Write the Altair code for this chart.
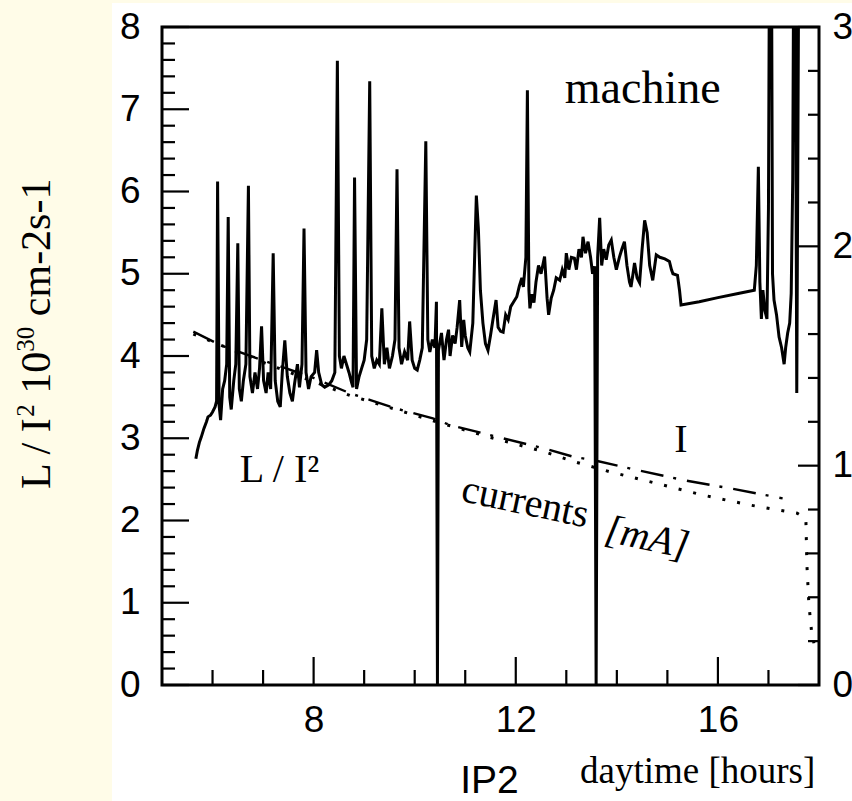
import altair as alt
import pandas as pd

# ---------------- data ----------------
# L / I^2  [10^30 cm-2 s-1]  (left axis) versus daytime [hours]
lum_t = [5.67, 5.70, 5.74, 5.78, 5.83, 5.88, 5.91, 5.96, 6.00, 6.05, 6.08,
         6.10, 6.13, 6.16, 6.20, 6.24, 6.28,
         6.31, 6.34, 6.37, 6.42, 6.46,
         6.50, 6.53, 6.57, 6.61, 6.66,
         6.71, 6.74, 6.79, 6.84, 6.89, 6.93,
         6.97, 7.01, 7.06, 7.10, 7.15,
         7.20, 7.24, 7.29, 7.34, 7.38,
         7.43, 7.48, 7.53, 7.58, 7.62, 7.68, 7.72, 7.77,
         7.81, 7.85, 7.90, 7.95, 8.02,
         8.06, 8.10, 8.16, 8.22, 8.30, 8.36, 8.42,
         8.47, 8.51, 8.55, 8.60, 8.65, 8.70, 8.75, 8.78,
         8.81, 8.85, 8.90, 8.95, 9.00, 9.05,
         9.11, 9.15, 9.20, 9.25, 9.30,
         9.35, 9.40, 9.45, 9.50, 9.56, 9.61,
         9.65, 9.69, 9.74, 9.80, 9.86,
         9.90, 9.95, 10.00, 10.05, 10.10, 10.15,
         10.22, 10.26, 10.30, 10.35, 10.40,
         10.43, 10.45, 10.47, 10.53, 10.58, 10.63, 10.67, 10.70, 10.75, 10.80, 10.84,
         10.89, 10.93, 10.97, 11.00, 11.05, 11.09, 11.15,
         11.22, 11.26, 11.30, 11.35, 11.40, 11.45, 11.50, 11.55,
         11.61, 11.65, 11.70, 11.75, 11.80, 11.85, 11.90, 11.95, 12.02, 12.07, 12.12, 12.15, 12.20,
         12.23, 12.26, 12.28, 12.32, 12.36, 12.40, 12.45, 12.50,
         12.57, 12.62, 12.65, 12.70, 12.75, 12.80, 12.87, 12.92, 12.97, 13.00, 13.05, 13.10,
         13.16, 13.20, 13.25, 13.30, 13.33, 13.38, 13.43, 13.48, 13.52, 13.56,
         13.59, 13.62, 13.66, 13.70, 13.74, 13.79, 13.84, 13.89, 13.94, 13.99, 14.05, 14.10,
         14.15, 14.20, 14.25, 14.28, 14.32, 14.35, 14.40, 14.45, 14.50, 14.55, 14.60, 14.65,
         14.71, 14.78, 14.85, 14.95, 15.04, 15.08, 15.11, 15.20, 15.24, 15.27,
         15.63, 16.00, 16.40, 16.72,
         16.76, 16.80, 16.83, 16.86, 16.89, 16.93, 16.97, 17.00,
         17.02, 17.06, 17.08, 17.11, 17.16, 17.21, 17.26, 17.31, 17.34, 17.38, 17.42, 17.45, 17.48,
         17.50, 17.53, 17.56, 17.60]
lum_v = [2.75, 2.85, 2.95, 3.02, 3.12, 3.20, 3.26, 3.28, 3.32, 3.38, 3.45,
         6.12, 3.40, 3.22, 3.60, 3.70, 3.90,
         5.69, 3.50, 3.35, 3.70, 3.90,
         5.37, 3.60, 3.45, 3.70, 3.90,
         6.07, 3.75, 3.55, 3.80, 3.60, 3.85,
         4.36, 3.70, 3.55, 3.80, 3.60,
         5.25, 3.70, 3.45, 3.38, 3.80,
         4.19, 3.75, 3.55, 3.45, 3.65, 3.90, 3.62, 3.90,
         5.55, 3.80, 3.60, 3.75, 3.80,
         4.07, 3.80, 3.65, 3.62, 3.65, 3.70, 3.80,
         7.59, 4.00, 3.85, 4.00, 3.90, 3.80, 3.68, 3.62,
         6.17, 3.60, 3.75, 3.85, 3.95, 4.20,
         7.34, 4.00, 3.85, 3.95, 3.90,
         4.58, 3.90, 4.10, 3.85, 4.00, 4.20,
         6.27, 4.10, 3.90, 4.05, 3.95,
         4.42, 3.95, 3.85, 3.83, 3.95, 4.10,
         6.61, 4.20, 4.05, 4.20, 4.10,
         4.66, 0.00, 4.07, 4.28, 3.95, 4.20, 4.32, 4.00, 4.25, 4.15, 4.35,
         4.68, 4.11, 4.44, 4.25, 4.10, 4.05, 4.40,
         5.95, 5.55, 4.80, 4.40, 4.15, 4.07, 4.25, 4.45,
         4.68, 4.35, 4.30, 4.29, 4.50, 4.44, 4.60, 4.65, 4.72, 4.85, 4.95, 4.84, 5.20,
         7.23, 4.80, 4.58, 4.75, 4.65, 4.90, 5.10, 5.00,
         5.21, 4.70, 4.50, 4.70, 4.80, 4.95, 4.92, 5.05, 4.95, 5.25, 5.05, 5.20,
         5.19, 5.05, 5.30, 5.20, 5.45, 5.25, 5.39, 5.20, 5.00, 5.09,
         0.00, 5.20, 5.68, 5.10, 5.30, 5.17, 5.35, 5.41, 5.20, 5.05, 5.20, 5.30,
         5.39, 5.10, 4.90, 4.84, 5.00, 5.13, 4.95, 4.89, 5.30, 5.65, 5.50, 5.10,
         4.92, 5.23, 5.20, 5.18, 5.15, 5.05, 5.00, 4.98, 4.80, 4.62,
         4.66, 4.71, 4.76, 4.80,
         5.10, 6.30, 4.90, 4.45, 4.80, 4.55, 4.45, 5.80,
         9.00, 9.00, 5.00, 4.68, 4.50, 4.23, 4.10, 3.90, 4.10, 4.28, 4.40, 4.76, 6.14,
         9.00, 9.00, 3.55, 9.00]

# beam currents [mA] (right axis)
beam1_t = [5.62, 6.15, 7.07, 8.00, 8.72, 9.11, 9.64, 10.36, 10.69, 11.48,
           12.54, 13.13, 13.52, 14.25, 15.30, 16.23, 17.28]
beam1_v = [1.611, 1.550, 1.474, 1.400, 1.330, 1.300, 1.260, 1.216, 1.186, 1.140,
           1.080, 1.041, 1.026, 0.988, 0.935, 0.897, 0.851]
beam2_t = [5.62, 7.07, 8.72, 10.43, 11.48, 12.54, 13.13, 13.85, 14.77, 15.70,
           16.62, 17.57, 17.74, 17.76, 17.80, 17.85, 17.90]
beam2_v = [1.600, 1.465, 1.320, 1.200, 1.130, 1.065, 1.020, 0.973, 0.920, 0.866,
           0.821, 0.783, 0.760, 0.550, 0.370, 0.250, 0.190]

left_labels = [0, 1, 2, 3, 4, 5, 6, 7, 8]
left_minor = [round(0.2 * k, 1) for k in range(1, 40) if k % 5 != 0]
right_labels = [0, 1, 2, 3]
right_minor = [round(0.2 * k, 1) for k in range(1, 15) if k % 5 != 0]
x_labels = [8, 12, 16]
x_minor = [6, 7, 9, 10, 11, 13, 14, 15, 17]

# left axis title: pieces (text, superscript?)
title_parts = [("L / I", False), ("2", True), ("10", False), ("30", True), ("cm-2s-1", False)]

# ---------------- chart ----------------
W, H = 657, 658
SERIF = "Liberation Serif"
SANS = "Liberation Sans"
YELLOW = "#FFFCE8"

xs = alt.Scale(domain=[5, 18], nice=False, zero=False)
yl = alt.Scale(domain=[0, 8], nice=False)
yr = alt.Scale(domain=[0, 3], nice=False)

AX_X = alt.Axis(values=x_labels, ticks=False, domain=False, grid=False, zindex=2,
                labelFont=SANS, labelFontSize=37, labelPadding=17, labelColor="black",
                title=None, format="d")
AX_L = alt.Axis(values=left_labels, ticks=False, domain=False, grid=False, zindex=2,
                labelFont=SANS, labelFontSize=37, labelPadding=22, labelColor="black",
                title=None)
AX_R = alt.Axis(orient="right", values=right_labels, ticks=False, domain=False, grid=False,
                zindex=2, labelFont=SANS, labelFontSize=37, labelPadding=13,
                labelColor="black", title=None)

XENC = alt.X("t:Q", scale=xs, axis=AX_X)

one = pd.DataFrame({"a": [0]})

# slide background: pale yellow strip on the left and along the top
bg_left = alt.Chart(one).mark_rect(color=YELLOW).encode(
    x=alt.value(-162), x2=alt.value(-50), y=alt.value(-27), y2=alt.value(774))
bg_top = alt.Chart(one).mark_rect(color=YELLOW).encode(
    x=alt.value(-50), x2=alt.value(690), y=alt.value(-27), y2=alt.value(-24))

lum = alt.Chart(pd.DataFrame({"t": lum_t, "v": lum_v, "i": list(range(len(lum_t)))})).mark_line(
    color="black", strokeWidth=3, clip=True
).encode(x=XENC, y=alt.Y("v:Q", scale=yl, axis=AX_L), order="i:Q")


def hticks(vals, scale, axis, x0, x1, field):
    return alt.Chart(pd.DataFrame({field: vals})).mark_rule(color="black", strokeWidth=2.2).encode(
        y=alt.Y(f"{field}:Q", scale=scale, axis=axis), x=alt.value(x0), x2=alt.value(x1))


def vticks(vals, length):
    return alt.Chart(pd.DataFrame({"t": vals})).mark_rule(color="black", strokeWidth=2.2).encode(
        x=XENC, y=alt.value(H), y2=alt.value(H - length))


def txt(s, x, y, size, font=SERIF, angle=0, align="left", style="normal"):
    return alt.Chart(pd.DataFrame({"t": [x], "v": [y], "s": [s]})).mark_text(
        font=font, fontSize=size, align=align, baseline="alphabetic", angle=angle,
        fontStyle=style, color="black"
    ).encode(x=XENC, y=alt.Y("v:Q", scale=yl, axis=AX_L), text="s:N")


# rotated left title built from pieces (Times metrics, em units)
CW = {"L": 0.611, " ": 0.25, "/": 0.278, "I": 0.333, "1": 0.5, "0": 0.5, "2": 0.5,
      "3": 0.5, "c": 0.444, "m": 0.778, "-": 0.333, "s": 0.389}
T_MAIN, T_SUP = 42, 25
T_BASE_X, T_START_Y = -112, 462
title_layers = []
pos = T_START_Y
for k, (piece, sup) in enumerate(title_parts):
    size = T_SUP if sup else T_MAIN
    if k > 0 and not sup:
        pos -= CW[" "] * T_MAIN
    title_layers.append(
        alt.Chart(pd.DataFrame({"s": [piece]})).mark_text(
            font=SERIF, fontSize=size, align="left", baseline="alphabetic", angle=270,
            color="black"
        ).encode(x=alt.value(T_BASE_X - (16 if sup else 0)), y=alt.value(pos), text="s:N")
    )
    pos -= sum(CW[c] for c in piece) * size

left_group = alt.layer(
    bg_left,
    bg_top,
    *title_layers,
    hticks(left_minor, yl, AX_L, 0, 13, "v"),
    hticks(left_labels, yl, AX_L, 0, 27, "v"),
    vticks(x_minor, 15),
    vticks(x_labels, 28),
    lum,
    txt("machine", 12.97, 7.08, 46),
    txt("L / I²", 6.54, 2.47, 40),
    txt("I", 15.27, 2.83, 40, align="center"),
    txt("currents", 10.89, 2.24, 40, angle=12),
    txt("[mA]", 13.73, 1.75, 40, angle=12, style="italic"),
    txt("daytime [hours]", 13.27, -1.19, 37),
    txt("IP2", 10.90, -1.31, 39, font=SANS),
)

b1 = alt.Chart(pd.DataFrame({"t": beam1_t, "c": beam1_v})).mark_line(
    color="black", strokeWidth=2.4, strokeDash=[23, 10, 3, 11]
).encode(x=XENC, y=alt.Y("c:Q", scale=yr, axis=AX_R))
b2 = alt.Chart(pd.DataFrame({"t": beam2_t, "c": beam2_v})).mark_line(
    color="black", strokeWidth=3, strokeDash=[3, 12]
).encode(x=XENC, y=alt.Y("c:Q", scale=yr, axis=AX_R))

right_group = alt.layer(
    hticks(right_minor, yr, AX_R, W, W - 11, "c"),
    hticks(right_labels, yr, AX_R, W, W - 21, "c"),
    b1, b2,
)

chart = alt.layer(left_group, right_group).resolve_scale(y="independent").resolve_axis(
    y="independent"
).properties(
    width=W, height=H,
    padding={"left": 162, "top": 27, "right": 33, "bottom": 116},
    autosize=alt.AutoSizeParams(type="none"),
    background="white",
).configure_view(stroke="black", strokeWidth=3)

chart.save("out.html", embed_options={"renderer": "svg", "actions": False})
